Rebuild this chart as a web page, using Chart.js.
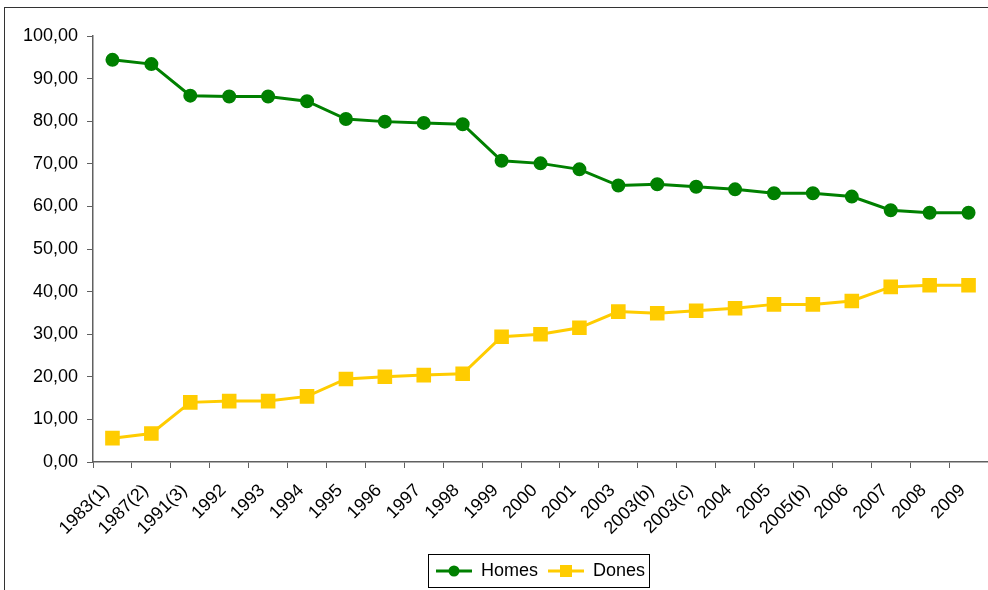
<!DOCTYPE html>
<html>
<head>
<meta charset="utf-8">
<script src="https://cdn.jsdelivr.net/npm/chart.js@4/dist/chart.umd.min.js"></script>
<style>
  body { margin: 0; background: #fff; overflow: hidden; }
  #wrap { position: relative; width: 988px; height: 590px; }
  #cadre { position: absolute; left: 4px; top: 7px; width: 984px; height: 583px;
           border-left: 1.5px solid #333; border-top: 1.5px solid #333; box-sizing: border-box; }
  canvas { position: absolute; left: 0; top: 0; }
</style>
</head>
<body>
<div id="wrap"><div id="cadre"></div><canvas id="canvasGraph" width="988" height="590"></canvas></div>
<script>
// Categories and series
var anys = ['1983(1)', '1987(2)', '1991(3)', '1992', '1993', '1994', '1995', '1996', '1997', '1998',
            '1999', '2000', '2001', '2003', '2003(b)', '2003(c)', '2004', '2005', '2005(b)', '2006',
            '2007', '2008', '2009'];
var homes = [94.4, 93.4, 86.0, 85.8, 85.8, 84.7, 80.5, 79.9, 79.6, 79.3, 70.7, 70.1, 68.7, 64.9,
             65.2, 64.6, 64.0, 63.1, 63.1, 62.3, 59.1, 58.5, 58.5];
var dones = [5.6, 6.7, 14.0, 14.3, 14.3, 15.4, 19.5, 20.0, 20.4, 20.7, 29.4, 30.0, 31.5, 35.3,
             34.9, 35.5, 36.1, 37.0, 37.0, 37.8, 41.1, 41.5, 41.5];
var yTicks = [0, 10, 20, 30, 40, 50, 60, 70, 80, 90, 100];

var vert = '#008000';
var groc = '#FFCC00';

// Petite icone de legende : ligne + marqueur
function IconeLegende(couleur, forme)
{
    var c = document.createElement('canvas');
    c.width = 36;
    c.height = 14;
    var ctx = c.getContext('2d');
    ctx.strokeStyle = couleur;
    ctx.fillStyle = couleur;
    ctx.lineWidth = 3;
    ctx.beginPath();
    ctx.moveTo(0, 7);
    ctx.lineTo(36, 7);
    ctx.stroke();
    if (forme === 'circle') {
        ctx.beginPath();
        ctx.arc(18, 7, 5.5, 0, Math.PI * 2);
        ctx.fill();
    } else {
        ctx.fillRect(12, 1, 12, 12);
    }
    return c;
}

var icones = [IconeLegende(vert, 'circle'), IconeLegende(groc, 'rect')];

// Legende centree sur la zone du graphe + son cadre
var cadreLegende = {
    id: 'cadreLegende',
    afterLayout: function(chart) {
        var leg = chart.legend;
        leg.left = chart.chartArea.left;
        leg.right = chart.chartArea.right;
        leg.width = leg.right - leg.left;
    },
    afterDraw: function(chart) {
        var ctx = chart.ctx;
        var boxes = chart.legend.legendHitBoxes;
        if (boxes && boxes.length) {
            var l = Infinity, r = -Infinity, t = Infinity, b = -Infinity;
            boxes.forEach(function(h) {
                l = Math.min(l, h.left);
                r = Math.max(r, h.left + h.width);
                t = Math.min(t, h.top);
                b = Math.max(b, h.top + h.height);
            });
            ctx.save();
            ctx.strokeStyle = '#000000';
            ctx.lineWidth = 1;
            ctx.strokeRect(Math.round(l - 8) + 0.5, Math.round(t - 8) + 0.5,
                           Math.round(r - l + 12), Math.round(b - t + 15));
            ctx.restore();
        }
    }
};

var chartdata = {
    labels: anys,
    datasets: [
        {
            label: 'Homes',
            data: homes,
            borderColor: vert,
            backgroundColor: vert,
            borderWidth: 3,
            pointStyle: 'circle',
            pointRadius: 5.5,
            pointHoverRadius: 5.5,
            tension: 0
        },
        {
            label: 'Dones',
            data: dones,
            borderColor: groc,
            backgroundColor: groc,
            borderWidth: 3,
            pointStyle: 'rect',
            pointRadius: 8.2,
            pointHoverRadius: 8.2,
            tension: 0
        }
    ]
};

var police = { family: '"Liberation Sans", Arial, sans-serif', size: 18 };

var graph = new Chart(document.getElementById('canvasGraph'), {
    type: 'line',
    data: chartdata,
    plugins: [cadreLegende],
    options: {
        responsive: false,
        animation: false,
        devicePixelRatio: 1,
        layout: { autoPadding: false, padding: { top: 36, right: 0, left: 0, bottom: 0 } },
        plugins: {
            tooltip: { enabled: false },
            legend: {
                position: 'bottom',
                labels: {
                    font: police,
                    color: '#000',
                    usePointStyle: true,
                    pointStyleWidth: 36,
                    padding: 10,
                    generateLabels: function(chart) {
                        return chart.data.datasets.map(function(ds, i) {
                            return {
                                text: ds.label,
                                pointStyle: icones[i],
                                fillStyle: ds.borderColor,
                                strokeStyle: ds.borderColor,
                                lineWidth: 0,
                                fontColor: '#000',
                                datasetIndex: i
                            };
                        });
                    }
                }
            }
        },
        scales: {
            x: {
                offset: true,
                grid: {
                    display: true,
                    drawOnChartArea: false,
                    drawTicks: true,
                    tickLength: 6,
                    color: '#606060',
                    offset: true
                },
                border: { display: true, color: '#606060', width: 1.5 },
                ticks: {
                    autoSkip: false,
                    maxRotation: 45,
                    minRotation: 45,
                    padding: 12,
                    labelOffset: -6,
                    color: '#000',
                    font: police
                },
                afterFit: function(scale) {
                    scale.height = scale.chart.height - scale.chart.legend.height - 462;
                    scale.paddingRight = 0;
                    scale.paddingLeft = 0;
                }
            },
            y: {
                min: 0,
                max: 100,
                afterBuildTicks: function(scale) {
                    scale.ticks = yTicks.map(function(v) { return { value: v }; });
                },
                grid: {
                    display: true,
                    drawOnChartArea: false,
                    drawTicks: true,
                    tickLength: 6,
                    color: '#606060'
                },
                border: { display: true, color: '#606060', width: 1.5 },
                ticks: {
                    padding: 9,
                    color: '#000',
                    font: police,
                    callback: function(v) { return v.toFixed(2).replace('.', ','); }
                },
                afterFit: function(scale) {
                    scale.width = 93;
                }
            }
        }
    }
});
</script>
</body>
</html>
